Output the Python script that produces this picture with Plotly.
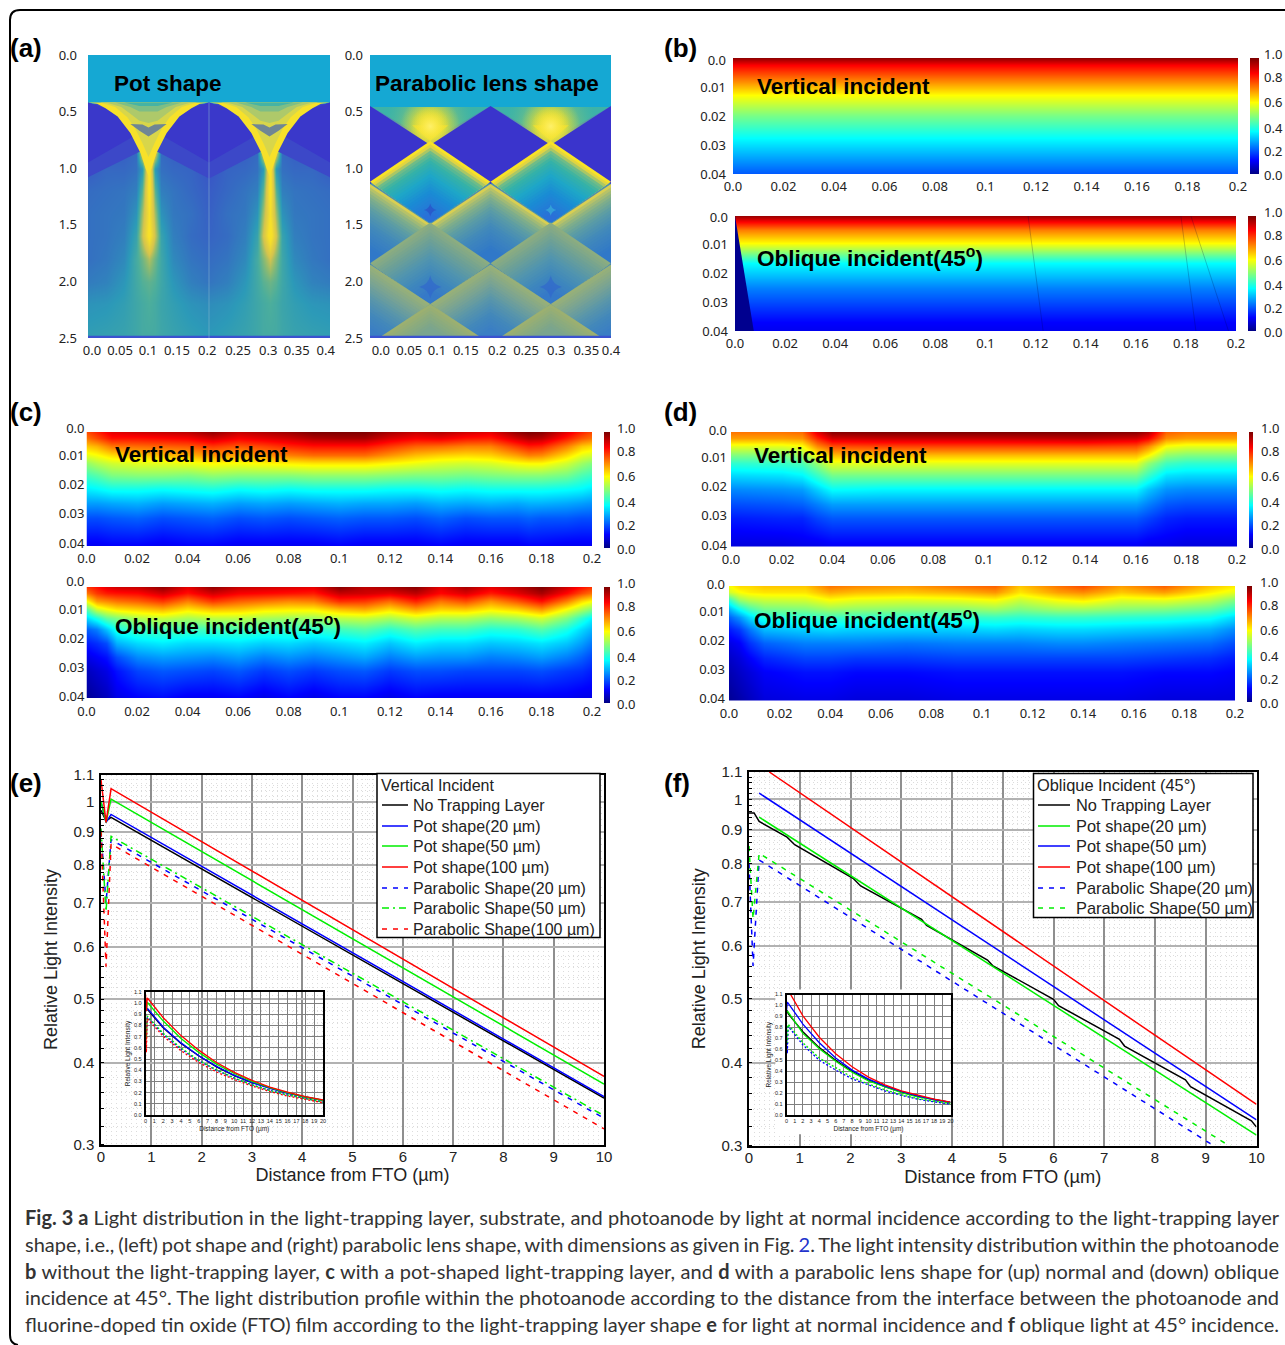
import math
import numpy as np
import plotly.graph_objects as go

W, H = 1285, 1345
TF = "Noto Sans"
AF = "Liberation Sans"

JET = [[0, "#00007f"], [0.125, "#0000ff"], [0.375, "#00ffff"], [0.625, "#ffff00"], [0.875, "#ff0000"], [1, "#7f0000"]]
PAR = [[0, "#3535c8"], [0.1, "#3a50c8"], [0.2, "#3378bf"], [0.3, "#2c9ab8"], [0.4, "#4cae9c"], [0.5, "#8fbb70"],
       [0.6, "#d5c44e"], [0.8, "#f7df2a"], [1, "#fbe81e"]]

# ---------- panel b ----------
B_DEPTH = [0, 0.0025, 0.0127, 0.02, 0.0277, 0.04]
B_TOP = [0.98, 0.875, 0.625, 0.49, 0.375, 0.21]
B_BOT_DEPTH = [0, 0.002, 0.0049, 0.0095, 0.0164, 0.025, 0.037, 0.04]
B_BOT = [0.97, 0.87, 0.75, 0.625, 0.375, 0.25, 0.125, 0.11]
B_WEDGE_X = [0, 0, 0.0075]
B_WEDGE_Y = [0, 0.04, 0.04]
B_STREAKS = [([0.117, 0.123], [0, 0.04]), ([0.178, 0.184], [0, 0.04]), ([0.182, 0.197], [0, 0.04])]

# ---------- panels c, d ----------
DEPTH = [0, 0.002, 0.005, 0.008, 0.011, 0.015, 0.02, 0.025, 0.03, 0.04]
C_TOP_X = [0, .004, .01, .02, .03, .04, .05, .06, .07, .08, .09, .1, .11, .12, .13, .14, .15, .16, .17, .175, .18, .19, .196, .2]
C_TOP = [
    [.80, .84, .90, .92, .93, .94, .98, .93, .95, .97, 1.0, 1.0, 1.0, .96, .93, .95, .92, .90, .98, 1.0, .99, .90, .84, .80],
    [.76, .80, .86, .86, .87, .88, .92, .88, .90, .92, .95, .96, .96, .91, .88, .89, .86, .85, .92, .95, .94, .85, .79, .76],
    [.68, .70, .76, .77, .78, .79, .82, .79, .81, .84, .86, .86, .86, .82, .78, .77, .75, .75, .82, .85, .84, .75, .68, .66],
    [.60, .62, .66, .68, .69, .70, .73, .71, .73, .75, .77, .77, .77, .73, .69, .67, .66, .67, .72, .75, .74, .66, .60, .58],
    [.52, .55, .58, .60, .60, .61, .63, .62, .63, .64, .65, .65, .65, .63, .61, .59, .58, .59, .62, .63, .63, .58, .53, .50],
    [.44, .46, .50, .51, .51, .50, .52, .51, .51, .51, .52, .52, .52, .51, .50, .50, .49, .50, .51, .51, .51, .49, .45, .43],
    [.36, .37, .39, .39, .38, .39, .40, .38, .39, .38, .39, .39, .39, .38, .38, .39, .38, .39, .39, .39, .39, .38, .37, .35],
    [.28, .28, .29, .30, .28, .29, .30, .28, .29, .28, .29, .30, .29, .29, .28, .30, .29, .30, .29, .30, .30, .29, .28, .27],
    [.20, .20, .21, .22, .20, .21, .22, .20, .21, .20, .21, .22, .21, .21, .20, .22, .20, .21, .21, .22, .21, .21, .20, .20],
    [.11, .11, .12, .12, .11, .12, .12, .11, .11, .11, .11, .12, .11, .11, .11, .12, .11, .11, .11, .12, .12, .11, .11, .11],
]
C_BOT_X = [0, .004, .008, .012, .02, .03, .04, .05, .06, .07, .08, .09, .1, .11, .12, .13, .14, .15, .16, .17, .18, .19, .196, .2]
C_BOT = [
    [.82, .86, .90, .92, .93, .98, .90, .98, .93, .92, .91, .90, .99, .94, .96, .99, .90, .96, .90, .94, 1.0, .92, .86, .82],
    [.76, .82, .85, .86, .87, .92, .86, .92, .88, .87, .86, .85, .93, .92, .90, .94, .87, .91, .85, .90, .96, .87, .80, .76],
    [.62, .72, .74, .76, .78, .82, .75, .82, .78, .76, .74, .75, .83, .82, .77, .84, .76, .80, .73, .79, .86, .75, .66, .62],
    [.46, .58, .62, .65, .67, .70, .65, .69, .68, .65, .64, .64, .69, .71, .66, .72, .67, .68, .64, .67, .73, .62, .55, .50],
    [.34, .40, .47, .50, .55, .57, .54, .56, .56, .54, .53, .53, .56, .57, .54, .58, .55, .55, .52, .54, .58, .50, .42, .36],
    [.22, .25, .32, .40, .44, .45, .44, .44, .45, .43, .43, .42, .44, .46, .42, .46, .44, .44, .41, .42, .46, .40, .34, .30],
    [.15, .17, .20, .30, .34, .36, .34, .34, .35, .33, .34, .32, .34, .36, .32, .36, .34, .34, .32, .33, .35, .32, .28, .24],
    [.10, .12, .14, .20, .26, .28, .27, .26, .28, .25, .27, .25, .27, .29, .25, .28, .27, .27, .25, .26, .28, .25, .22, .19],
    [.06, .08, .10, .14, .19, .21, .20, .19, .21, .18, .20, .18, .20, .21, .18, .20, .20, .19, .19, .19, .20, .18, .17, .15],
    [.02, .04, .06, .10, .12, .13, .11, .11, .12, .10, .12, .10, .12, .12, .10, .12, .11, .11, .11, .11, .11, .11, .10, .10],
]
D_TOP_X = [0, .02, .028, .034, .04, .06, .1, .14, .16, .165, .172, .18, .2]
D_TOP = [
    [.76, .76, .77, .90, .99, 1.0, 1.0, 1.0, .99, .95, .78, .76, .76],
    [.72, .72, .73, .84, .92, .93, .93, .94, .92, .88, .74, .72, .72],
    [.60, .60, .62, .74, .80, .81, .81, .81, .80, .74, .62, .60, .60],
    [.50, .50, .53, .62, .69, .69, .69, .69, .69, .63, .52, .50, .50],
    [.42, .43, .45, .52, .60, .60, .60, .60, .60, .52, .44, .42, .42],
    [.34, .35, .37, .43, .49, .49, .49, .49, .49, .43, .35, .34, .34],
    [.26, .27, .28, .33, .38, .37, .37, .37, .37, .32, .27, .26, .26],
    [.20, .21, .22, .25, .28, .28, .28, .28, .28, .25, .21, .20, .20],
    [.15, .16, .16, .19, .21, .21, .21, .21, .21, .19, .16, .15, .15],
    [.09, .09, .10, .10, .11, .11, .11, .11, .11, .10, .10, .09, .09],
]
D_BOT_X = [0, .004, .008, .014, .03, .04, .05, .07, .09, .105, .115, .13, .14, .155, .172, .19, .2]
D_BOT = [
    [.62, .66, .66, .68, .68, .76, .74, .72, .76, .78, .68, .76, .80, .72, .78, .68, .64],
    [.58, .62, .64, .65, .65, .71, .69, .68, .70, .73, .65, .72, .74, .68, .72, .64, .60],
    [.42, .52, .55, .57, .58, .62, .60, .59, .60, .62, .57, .62, .64, .59, .60, .56, .50],
    [.30, .38, .44, .49, .50, .53, .52, .51, .51, .53, .50, .53, .53, .51, .50, .47, .42],
    [.22, .27, .34, .41, .42, .44, .43, .42, .42, .43, .42, .43, .43, .42, .41, .39, .34],
    [.15, .18, .24, .31, .33, .34, .33, .33, .33, .34, .33, .34, .34, .33, .32, .30, .26],
    [.10, .12, .17, .22, .25, .25, .25, .24, .25, .25, .25, .26, .26, .25, .24, .23, .20],
    [.07, .09, .12, .16, .19, .19, .18, .18, .19, .19, .19, .19, .19, .19, .18, .17, .15],
    [.05, .07, .09, .12, .14, .14, .13, .13, .14, .14, .14, .14, .14, .14, .13, .13, .12],
    [.02, .04, .06, .09, .10, .10, .09, .09, .10, .10, .10, .10, .10, .10, .09, .09, .09],
]

# ---------- panel a, pot shape ----------
POT_X = [0, .03, .06, .08, .09, .1, .11, .12, .14, .17, .2, .23, .26, .28, .29, .3, .31, .32, .34, .37, .4]
POT_Y = [.4, .8, 1.0, 1.2, 1.4, 1.6, 1.8, 2.0, 2.2, 2.5]
POT_Z = [
    [.08, .08, .08, .08, .08, .08, .08, .08, .08, .08, .08, .08, .08, .08, .08, .08, .08, .08, .08, .08, .08],
    [.12, .13, .13, .16, .80, .90, .80, .16, .13, .13, .11, .13, .13, .16, .80, .90, .80, .16, .13, .13, .12],
    [.13, .16, .16, .18, .30, .85, .30, .18, .16, .15, .11, .15, .16, .18, .30, .85, .30, .18, .16, .16, .13],
    [.17, .18, .19, .22, .42, .85, .42, .22, .19, .16, .13, .16, .19, .22, .42, .85, .42, .22, .19, .18, .17],
    [.18, .19, .20, .28, .52, .80, .52, .28, .20, .18, .14, .18, .20, .28, .52, .80, .52, .28, .20, .19, .18],
    [.18, .19, .22, .34, .58, .85, .58, .34, .22, .17, .15, .17, .22, .34, .60, .88, .60, .34, .22, .19, .18],
    [.18, .20, .25, .38, .45, .55, .45, .36, .25, .19, .17, .19, .25, .38, .48, .60, .48, .36, .25, .20, .18],
    [.21, .23, .29, .37, .41, .43, .41, .36, .29, .22, .19, .22, .29, .37, .42, .45, .42, .36, .29, .23, .21],
    [.28, .29, .32, .36, .38, .40, .38, .35, .32, .28, .26, .28, .32, .36, .38, .40, .38, .35, .32, .29, .28],
    [.32, .33, .34, .36, .38, .38, .38, .36, .34, .32, .30, .32, .34, .36, .38, .38, .38, .36, .34, .33, .32],
]
CUP_OUTER_X = [0, .015, .029, .049, .07, .087, .095, .1, .105, .113, .13, .151, .171, .185, .2]
CUP_OUTER_Y = [.42, .43, .47, .544, .69, .868, 1.0, 1.07, 1.0, .868, .69, .544, .47, .43, .42]
CUP_1_X = [.02, .045, .065, .078, .09, .1, .11, .122, .135, .155, .18]
CUP_1_Y = [.42, .46, .55, .65, .78, .9, .78, .65, .55, .46, .42]
CUP_2_X = [.03, .055, .07, .085, .1, .115, .13, .145, .17]
CUP_2_Y = [.42, .46, .52, .58, .6, .58, .52, .46, .42]
CUP_3_X = [.045, .07, .085, .115, .13, .155]
CUP_3_Y = [.42, .46, .5, .5, .46, .42]
CUP_4_X = [.06, .085, .115, .14]
CUP_4_Y = [.42, .45, .45, .42]
BUTTERFLY_X = [.07, .09, .1, .11, .13, .115, .1, .085]
BUTTERFLY_Y = [.61, .615, .64, .615, .61, .67, .72, .67]
MID_C_X = [.113, .2, .287, .27, .249, .229, .2, .171, .151, .13]
MID_C_Y = [.85, 1.09, .85, .69, .544, .47, .42, .47, .544, .69]
TOP_C_X = [.125, .2, .275, .27, .249, .229, .2, .171, .151, .13]
TOP_C_Y = [.72, .95, .72, .69, .544, .47, .42, .47, .544, .69]
MID_L_X = [0, .087, .07, .049, .029, 0]
MID_L_Y = [1.08, .85, .69, .544, .47, .42]
TOP_L_X = [0, .075, .07, .049, .029, 0]
TOP_L_Y = [.95, .72, .69, .544, .47, .42]
MID_R_X = [.4, .313, .33, .351, .371, .4]
TOP_R_X = [.4, .325, .33, .351, .371, .4]

# ---------- panel a, parabolic lens ----------
STOPS_TEAL = [(1.0, "#f9e326"), (.97, "#f0d838"), (.93, "#b9ca5c"), (.88, "#6fbc88"), (.78, "#36b2a6"), (.6, "#1ea6c8"), (.4, "#1a8cd4"), (.12, "#2a70d8")]
STOPS_R3 = [(1.0, "#d9cf52"), (.95, "#aebf6e"), (.85, "#7fae8a"), (.7, "#5a9ca6"), (.5, "#4289ba"), (.2, "#3078c8")]
STOPS_R4 = [(1.0, "#8cad80"), (.8, "#6da096"), (.6, "#5295ae"), (.4, "#3f88bc"), (.15, "#3578c8")]
STOPS_R5 = [(1.0, "#98b078"), (.8, "#7aa492"), (.6, "#5a96aa"), (.4, "#4388ba"), (.2, "#3a7ec4")]
STOPS_R6 = [(1.0, "#9cb070"), (.85, "#88aa80"), (.7, "#78a490")]
TILES = [
    (.1, .76, 1.48, .1, STOPS_TEAL), (.3, .76, 1.48, .1, STOPS_TEAL),
    (0, 1.14, 1.85, .1, STOPS_R3), (.2, 1.14, 1.85, .1, STOPS_R3), (.4, 1.14, 1.85, .1, STOPS_R3),
    (.1, 1.48, 2.2, .1, STOPS_R4), (.3, 1.48, 2.2, .1, STOPS_R4),
    (0, 1.85, 2.55, .1, STOPS_R5), (.2, 1.85, 2.55, .1, STOPS_R5), (.4, 1.85, 2.55, .1, STOPS_R5),
    (.1, 2.2, 2.9, .1, STOPS_R6), (.3, 2.2, 2.9, .1, STOPS_R6),
]
DARK_DIAMONDS = [(.2, .45, 1.14, .1), (0, .45, 1.14, .1), (.4, .45, 1.14, .1)]
CUPS_P = [([0, .2, .1], [.45, .45, .76]), ([.2, .4, .3], [.45, .45, .76])]
GLOW_X = [.1, .3]
GLOW_Y = [.63, .63]
STAR_X = [.1, .3, .1, .3]
STAR_Y = [1.37, 1.37, 2.05, 2.05]
STAR_C = ["#2a50c8", "#38b0d8", "#3068cc", "#3068cc"]

# ---------- panel e ----------
E_X = [0, .1, .2, 10]
E_NONE = [.97, .935, .9465, .353]
E_P20 = [1.0, .93, .956, .355]
E_P50 = [1.0, .93, 1.0086, .371]
E_P100 = [1.08, .93, 1.0466, .381]
E_L20 = [.90, .70, .875, .329]
E_L50 = [.91, .68, .885, .332]
E_L100 = [.90, .56, .862, .317]
INS_X = [0, .1, .2, 2, 4, 6, 8, 10, 12, 14, 16, 18, 20]
EI_NONE = [.97, .935, .945, .78, .64, .53, .43, .353, .29, .24, .195, .16, .13]
EI_P20 = [1.0, .93, .956, .785, .645, .53, .435, .355, .29, .238, .195, .16, .13]
EI_P50 = [1.0, .93, 1.008, .84, .685, .56, .455, .371, .30, .245, .20, .162, .132]
EI_P100 = [1.08, .93, 1.047, .87, .71, .58, .47, .381, .31, .25, .205, .165, .135]
EI_L20 = [.9, .7, .875, .72, .59, .485, .4, .329, .27, .22, .18, .145, .115]
EI_L50 = [.91, .68, .885, .73, .6, .49, .405, .332, .27, .22, .18, .145, .115]
EI_L100 = [.9, .56, .862, .705, .575, .47, .385, .317, .26, .21, .17, .14, .11]

# ---------- panel f ----------
F_NONE_X = [0, .1, .2, .75, .9, 2.05, 2.2, 3.4, 3.5, 4.7, 4.8, 6, 6.1, 7.3, 7.4, 8.6, 8.7, 9.9, 10]
F_NONE = [.954, .954, .926, .877, .854, .76, .74, .659, .645, .572, .561, .499, .488, .434, .424, .377, .368, .327, .32]
F_P20_X = [.2, 10]
F_P20 = [.94, .311]
F_P50_X = [.2, 10]
F_P50 = [1.022, .328]
F_P100_X = [.4, 10]
F_P100 = [1.1, .346]
F_L_X = [0, .08, .2, 10]
F_L20 = [.8, .56, .81, .273]
F_L50 = [.85, .66, .829, .2825]
FI_X = [0, .1, .2, 2, 4, 6, 8, 10, 12, 14, 16, 18, 20]
FI_NONE = [.95, .95, .925, .76, .615, .5, .4, .32, .26, .21, .17, .14, .115]
FI_P20 = [.95, .94, .94, .745, .605, .49, .39, .311, .255, .205, .165, .135, .11]
FI_P50 = [.95, 1.03, 1.022, .83, .66, .52, .41, .328, .265, .215, .175, .14, .115]
FI_P100 = [1.25, 1.2, 1.14, .905, .71, .56, .44, .346, .275, .22, .18, .145, .118]
FI_L20 = [.8, .56, .81, .64, .5, .41, .33, .273, .22, .18, .145, .12, .1]
FI_L50 = [.85, .66, .829, .66, .52, .43, .345, .2825, .23, .185, .15, .125, .105]

TICK_X_02 = [0, .02, .04, .06, .08, .1, .12, .14, .16, .18, .2]
TICK_X_02_T = ["0.0", "0.02", "0.04", "0.06", "0.08", "0.1", "0.12", "0.14", "0.16", "0.18", "0.2"]
TICK_Y_04_T = ["0.0", "0.01", "0.02", "0.03", "0.04"]
LABEL_Y_B1 = [60, 87, 116, 145, 174]
LABEL_Y_B2 = [217, 244, 273, 302, 331]
LABEL_Y_C1 = [428, 455, 484, 513, 543]
LABEL_Y_C2 = [581, 609, 638, 667, 696]
LABEL_Y_D1 = [430, 457, 486, 515, 545]
LABEL_Y_D2 = [584, 611, 640, 669, 698]
TICK_A1_X = [.0066, .053, .099, .147, .197, .248, .298, .345, .393]
TICK_A2_X = [.018, .065, .111, .159, .211, .259, .309, .359, .4]
TICK_A_XT = ["0.0", "0.05", "0.1", "0.15", "0.2", "0.25", "0.3", "0.35", "0.4"]
TICK_A_Y = [0, .5, 1, 1.5, 2, 2.5]
TICK_A_YT = ["0.0", "0.5", "1.0", "1.5", "2.0", "2.5"]
CB_LEVELS = [0, .125, .375, .625, .875, 1]
CB_TICKS = [-.012, .195, .392, .615, .83, 1.03]
CB_TEXT = ["0.0", "0.2", "0.4", "0.6", "0.8", "1.0"]
LOG_TICKS = [.3, .4, .5, .6, .7, .8, .9, 1, 1.1]
LOG_TEXT = ["0.3", "0.4", "0.5", "0.6", "0.7", "0.8", "0.9", "1", "1.1"]

CAPTION = [
    "<b>Fig. 3 a</b> Light distribution in the light-trapping layer, substrate, and photoanode by light at normal incidence according to the light-trapping layer",
    "shape, i.e., (left) pot shape and (right) parabolic lens shape, with dimensions as given in Fig. <span style=\"color:#2233cc\">2</span>. The light intensity distribution within the photoanode",
    "<b>b</b> without the light-trapping layer, <b>c</b> with a pot-shaped light-trapping layer, and <b>d</b> with a parabolic lens shape for (up) normal and (down) oblique",
    "incidence at 45°. The light distribution profile within the photoanode according to the distance from the interface between the photoanode and",
    "fluorine-doped tin oxide (FTO) film according to the light-trapping layer shape <b>e</b> for light at normal incidence and <b>f</b> oblique light at 45° incidence.",
]
CAPTION_Y = [1217, 1244, 1271, 1297, 1324]

fig = go.Figure()
layout = {}
annos = []
shapes = []
_n = [0]


def axes(box, xa=None, ya=None):
    _n[0] += 1
    i = _n[0]
    s = "" if i == 1 else str(i)
    x0, x1, y0, y1 = box
    xd = dict(domain=[x0 / W, x1 / W], anchor="y" + s, showgrid=False, zeroline=False, fixedrange=True)
    yd = dict(domain=[1 - y1 / H, 1 - y0 / H], anchor="x" + s, showgrid=False, zeroline=False, fixedrange=True)
    xd.update(xa or {})
    yd.update(ya or {})
    layout["xaxis" + s] = xd
    layout["yaxis" + s] = yd
    return "x" + s, "y" + s


def text(x, y, s, size=22.5, family=AF, color="black", bold=True):
    annos.append(dict(x=x / W, y=1 - y / H, xref="paper", yref="paper", text=("<b>%s</b>" % s) if bold else s,
                      showarrow=False, xanchor="left", yanchor="middle", align="left", borderpad=0, borderwidth=0,
                      font=dict(size=size, family=family, color=color)))


def poly(xs, ys, color, ax):
    fig.add_trace(go.Scatter(x=xs, y=ys, mode="lines", fill="toself", fillcolor=color, line=dict(width=0),
                             showlegend=False, hoverinfo="skip", xaxis=ax[0], yaxis=ax[1]))


TK = dict(ticks="", tickfont=dict(family=TF, size=13, color="#222"), showline=False)


def ghost(ax):
    fig.add_trace(go.Scatter(x=[.5], y=[.5], mode="markers", marker=dict(opacity=0), showlegend=False, hoverinfo="skip",
                             xaxis=ax[0], yaxis=ax[1]))


def heat_axes(box, ystand, label_y):
    x0, x1, y0, y1 = box
    ax = axes(box,
              dict(range=[0, .2], tickmode="array", tickvals=TICK_X_02, ticktext=TICK_X_02_T, ticklabelstandoff=3, **TK),
              dict(range=[.04, 0], visible=False))
    u = .04 / (y1 - y0)
    lab = axes((x0, x1, y0 - 10, y1 + 4), dict(range=[0, 1], visible=False),
               dict(range=[.04 + 4 * u, -10 * u], tickmode="array", tickvals=[(p - y0) * u for p in label_y],
                    ticktext=TICK_Y_04_T, ticklabelstandoff=ystand, **TK))
    ghost(lab)
    return ax


def heat(x, y, z, ax):
    fig.add_trace(go.Heatmap(x=x, y=y, z=z, colorscale=JET, zmin=0, zmax=1, zsmooth="best", showscale=False,
                             hoverinfo="skip", xaxis=ax[0], yaxis=ax[1]))


def cbar(box, gap):
    x0, x1, y0, y1 = box
    ax = axes(box, dict(range=[0, 1], visible=False), dict(range=[0, 1], visible=False))
    fig.add_trace(go.Heatmap(x=[0, 1], y=CB_LEVELS, z=[[v, v] for v in CB_LEVELS], colorscale=JET, zmin=0, zmax=1,
                             zsmooth="best", showscale=False, hoverinfo="skip", xaxis=ax[0], yaxis=ax[1]))
    ext = 6 / (y1 - y0)
    lab = axes((x0, x1, y0 - 6, y1 + 6), dict(range=[0, 1], visible=False),
               dict(range=[-ext, 1 + ext], side="right", tickmode="array", tickvals=CB_TICKS, ticktext=CB_TEXT,
                    ticklabelstandoff=gap, **TK))
    ghost(lab)


def hex2(c):
    return [int(c[i:i + 2], 16) for i in (1, 3, 5)]


def stop_color(stops, s):
    for (s1, c1), (s2, c2) in zip(stops, stops[1:]):
        if s <= s1 and s >= s2:
            t = (s1 - s) / (s1 - s2)
            a, b = hex2(c1), hex2(c2)
            return "rgb(%d,%d,%d)" % tuple(round(a[k] + (b[k] - a[k]) * t) for k in range(3))
    return stops[-1][1]


# ---- a left
a1 = axes((88, 330, 55, 338),
          dict(range=[0, .4], tickmode="array", tickvals=TICK_A1_X, ticktext=TICK_A_XT, ticklabelstandoff=3, **TK),
          dict(range=[2.5, 0], tickmode="array", tickvals=TICK_A_Y, ticktext=TICK_A_YT, ticklabelstandoff=10, **TK))
fig.add_trace(go.Heatmap(x=POT_X, y=POT_Y, z=POT_Z, colorscale=PAR, zmin=0, zmax=1, zsmooth="best", showscale=False,
                         hoverinfo="skip", xaxis=a1[0], yaxis=a1[1]))
poly([0, .4, .4, 0], [0, 0, .43, .43], "#15a8d3", a1)
poly([0, .4, .4, 0], [2.48, 2.48, 2.5, 2.5], "#3a52d0", a1)
poly(MID_L_X, MID_L_Y, "#3c48c8", a1)
poly(MID_R_X, MID_L_Y, "#3c48c8", a1)
poly(MID_C_X, MID_C_Y, "#3c48c8", a1)
poly(TOP_L_X, TOP_L_Y, "#3a38ca", a1)
poly(TOP_R_X, TOP_L_Y, "#3a38ca", a1)
poly(TOP_C_X, TOP_C_Y, "#3a38ca", a1)
for dx in (0, .2):
    poly([v + dx for v in CUP_OUTER_X], CUP_OUTER_Y, "#f7e12a", a1)
    poly([v + dx for v in CUP_1_X], CUP_1_Y, "#d8d64a", a1)
    poly([v + dx for v in CUP_2_X], CUP_2_Y, "#aec96a", a1)
    poly([v + dx for v in CUP_3_X], CUP_3_Y, "#7dbe86", a1)
    poly([v + dx for v in CUP_4_X], CUP_4_Y, "#46b3a4", a1)
    poly([v + dx for v in BUTTERFLY_X], BUTTERFLY_Y, "#6f8694", a1)
fig.add_trace(go.Scatter(x=[.2, .2], y=[.42, 2.5], mode="lines", line=dict(color="rgba(140,190,210,.5)", width=1),
                         showlegend=False, hoverinfo="skip", xaxis=a1[0], yaxis=a1[1]))
text(114, 84, "Pot shape")

# ---- a right
a2 = axes((370, 611, 55, 338),
          dict(range=[0, .4], tickmode="array", tickvals=TICK_A2_X, ticktext=TICK_A_XT, ticklabelstandoff=3, **TK),
          dict(range=[2.5, 0], tickmode="array", tickvals=TICK_A_Y, ticktext=TICK_A_YT, ticklabelstandoff=6, **TK))
poly([0, .4, .4, 0], [.4, .4, 2.5, 2.5], "#4f8fb0", a2)
for cx, cy in CUPS_P:
    poly(cx, cy, "#3cb3a8", a2)
    poly([cx[2] - .03, cx[2] + .03, cx[2]], [.62, .62, .76], "#f9e326", a2)
for size, outer, center in [(92, "rgba(90,185,150,0)", "#f9e326"), (60, "rgba(249,227,38,0)", "#f9e326"),
                            (40, "rgba(249,227,38,0)", "#fdf06a")]:
    fig.add_trace(go.Scatter(x=GLOW_X, y=GLOW_Y, mode="markers", showlegend=False, hoverinfo="skip", xaxis=a2[0], yaxis=a2[1],
                             marker=dict(size=size, color=outer, line=dict(width=0),
                                         gradient=dict(type="radial", color=center))))
poly([0, .4, .4, 0], [0, 0, .46, .46], "#15a8d3", a2)
for cx, t, b, w in DARK_DIAMONDS:
    poly([cx, cx + w, cx, cx - w], [t, (t + b) / 2, b, (t + b) / 2], "#3a34cc", a2)
for cx, t, b, w, stops in TILES:
    h = b - t
    s = 1.0
    low = stops[-1][0]
    while s >= low - 1e-9:
        m = b - h * s / 2
        poly([cx, cx + w * s, cx, cx - w * s], [b - h * s, m, b, m], stop_color(stops, s), a2)
        s -= .04
fig.add_trace(go.Scatter(x=STAR_X, y=STAR_Y, mode="markers", showlegend=False, hoverinfo="skip", xaxis=a2[0], yaxis=a2[1],
                         marker=dict(size=[9, 8, 16, 16], symbol="star-diamond", color=STAR_C, line=dict(width=0))))
poly([0, .4, .4, 0], [2.48, 2.48, 2.5, 2.5], "#3a52d0", a2)
text(375, 84, "Parabolic lens shape")

# ---- b
ax = heat_axes((733, 1238, 58, 174), 6, LABEL_Y_B1)
heat([0, .2], B_DEPTH, [[v, v] for v in B_TOP], ax)
cbar((1250, 1259, 58, 174), 4)
text(757, 86, "Vertical incident")
ax = heat_axes((735, 1236, 216, 331), 6, LABEL_Y_B2)
heat([0, .2], B_BOT_DEPTH, [[v, v] for v in B_BOT], ax)
poly(B_WEDGE_X, B_WEDGE_Y, "#00008f", ax)
for sx, sy in B_STREAKS:
    fig.add_trace(go.Scatter(x=sx, y=sy, mode="lines", line=dict(color="rgba(0,0,60,.22)", width=1), showlegend=False,
                             hoverinfo="skip", xaxis=ax[0], yaxis=ax[1]))
cbar((1248, 1256, 216, 331), 7)
text(757, 257, "Oblique incident(45<sup>o</sup>)")

# ---- c
ax = heat_axes((86.5, 592, 432, 546), 1, LABEL_Y_C1)
heat(C_TOP_X, DEPTH, C_TOP, ax)
cbar((604, 610, 432, 548), 6)
text(115, 454, "Vertical incident")
ax = heat_axes((86.5, 592, 587, 698.5), 1, LABEL_Y_C2)
heat(C_BOT_X, DEPTH, C_BOT, ax)
cbar((604, 610, 587, 703), 6)
text(115, 625, "Oblique incident(45<sup>o</sup>)")

# ---- d
ax = heat_axes((731, 1237, 432, 546.5), 3, LABEL_Y_D1)
heat(D_TOP_X, DEPTH, D_TOP, ax)
cbar((1249, 1253, 432, 548), 7)
text(754, 455, "Vertical incident")
ax = heat_axes((729, 1235, 586, 700.5), 3, LABEL_Y_D2)
heat(D_BOT_X, DEPTH, D_BOT, ax)
cbar((1247, 1252, 586, 702), 7)
text(754, 619, "Oblique incident(45<sup>o</sup>)")

# ---- e, f
LOG_MINOR = [round(v, 2) for v in np.arange(.3, 1.1, .02)]
X_MINOR = [round(v, 1) for v in np.arange(0, 10.01, .1)]
XT = list(range(11))


def main_axes(box, ytitle_stand, xsize):
    fr = dict(family=AF, size=15, color="#222")
    return axes(box,
                dict(range=[0, 10], tickmode="array", tickvals=XT, ticktext=[str(v) for v in XT], tickfont=fr,
                     showgrid=True, gridcolor="#8f8f8f", gridwidth=1.5, showline=True, linecolor="black", linewidth=1.5,
                     mirror=True, ticks="", ticklabelstandoff=-2,
                     title=dict(text="Distance from FTO (µm)", font=dict(family=AF, size=xsize, color="#222"), standoff=4),
                     minor=dict(tickmode="array", tickvals=X_MINOR, showgrid=True, griddash="1px,3px", gridcolor="#dcdcdc", gridwidth=1, ticks="")),
                dict(type="log", range=[math.log10(.3), math.log10(1.1)], tickmode="array", tickvals=LOG_TICKS, ticktext=LOG_TEXT,
                     tickfont=fr, showgrid=True, gridcolor="#b2b2b2", gridwidth=1.5, showline=True, linecolor="black", linewidth=1.5,
                     mirror=True, ticks="", ticklabelstandoff=2,
                     title=dict(text="Relative Light Intensity", font=dict(family=AF, size=18, color="#222"), standoff=ytitle_stand),
                     minor=dict(tickmode="array", tickvals=LOG_MINOR, showgrid=True, griddash="1px,3px", gridcolor="#dcdcdc", gridwidth=1,
                                ticks="inside", ticklen=3, tickcolor="black")))


def inset_axes(box):
    fr = dict(family=AF, size=5.5, color="#222")
    xt = list(range(21))
    yt = [round(v * .1, 1) for v in range(12)]
    return axes(box,
                dict(range=[0, 20], tickmode="array", tickvals=xt, ticktext=[str(v) for v in xt], tickfont=fr, showgrid=True,
                     gridcolor="#7f7f7f", gridwidth=1, showline=True, linecolor="black", linewidth=1.5, mirror=True, ticks="",
                     title=dict(text="Distance from FTO (µm)", font=dict(family=AF, size=6.5, color="#222"), standoff=3)),
                dict(range=[0, 1.1], tickmode="array", tickvals=yt, ticktext=["%.1f" % v for v in yt], tickfont=fr, showgrid=True,
                     gridcolor="#7f7f7f", gridwidth=1, showline=True, linecolor="black", linewidth=1.5, mirror=True, ticks="",
                     ticklabelstandoff=1,
                     title=dict(text="Relative Light Intensity", font=dict(family=AF, size=6.5, color="#222"), standoff=3)))


BLK, BLU, GRN, RED = "#000000", "#0000ff", "#00ee00", "#ff0000"
D1 = "5px,6px"
DD = "7px,4px,2px,4px"


def line(x, y, name, c, dash, ax, width=1.5):
    fig.add_trace(go.Scatter(x=x, y=y, name=name, mode="lines", line=dict(color=c, width=width, dash=dash),
                             showlegend=False, hoverinfo="skip", xaxis=ax[0], yaxis=ax[1]))


def key(box, title, tx, sample, ttx, size, rows, items):
    x0, x1, y0, y1 = box
    shapes.append(dict(type="rect", xref="paper", yref="paper", x0=x0 / W, x1=x1 / W, y0=1 - y1 / H, y1=1 - y0 / H,
                       fillcolor="white", line=dict(color="black", width=1.5), layer="above"))
    text(tx, 785, title, size=size, color="#222", bold=False)
    for y, (n, c, d) in zip(rows, items):
        shapes.append(dict(type="line", xref="paper", yref="paper", x0=sample[0] / W, x1=sample[1] / W, y0=1 - y / H, y1=1 - y / H,
                           line=dict(color=c, width=1.5, dash=d), layer="above"))
        text(ttx, y, n, size=size, color="#222", bold=False)


E_ITEMS = [("No Trapping Layer", BLK, "solid"), ("Pot shape(20 µm)", BLU, "solid"), ("Pot shape(50 µm)", GRN, "solid"),
           ("Pot shape(100 µm)", RED, "solid"), ("Parabolic Shape(20 µm)", BLU, D1), ("Parabolic Shape(50 µm)", GRN, DD),
           ("Parabolic Shape(100 µm)", RED, D1)]
F_ITEMS = [("No Trapping Layer", BLK, "solid"), ("Pot shape(20 µm)", GRN, "solid"), ("Pot shape(50 µm)", BLU, "solid"),
           ("Pot shape(100 µm)", RED, "solid"), ("Parabolic Shape(20 µm)", BLU, D1), ("Parabolic Shape(50 µm)", GRN, D1)]
KEY_ROWS = [805, 826, 846, 867, 888, 908, 929]

e = main_axes((101, 604, 774.5, 1144.5), 11, 18)
for y, (n, c, d) in zip([E_NONE, E_P20, E_P50, E_P100, E_L20, E_L50, E_L100], E_ITEMS):
    line(E_X, y, n, c, d, e)
ei = inset_axes((145.5, 323, 992, 1115))
for y, c, d in [(EI_NONE, BLK, "solid"), (EI_P20, BLU, "solid"), (EI_P50, GRN, "solid"), (EI_P100, RED, "solid"),
                (EI_L20, BLU, "2px,2px"), (EI_L50, GRN, "2px,2px"), (EI_L100, RED, "2px,2px")]:
    line(INS_X, y, None, c, d, ei, 1.3)
key((377, 600, 773.5, 937.5), "Vertical Incident", 381, (382, 408), 413, 16, KEY_ROWS, E_ITEMS)

f = main_axes((749, 1256.5, 772, 1145.5), 11, 18.3)
poly([.52, 3.97, 3.97, .52], [.516, .516, .312, .312], "#ffffff", f)
for (x, y), (n, c, d) in zip([(F_NONE_X, F_NONE), (F_P20_X, F_P20), (F_P50_X, F_P50), (F_P100_X, F_P100), (F_L_X, F_L20), (F_L_X, F_L50)], F_ITEMS):
    line(x, y, n, c, d, f)
fi = inset_axes((786.5, 950.5, 994.5, 1115))
for y, c, d in [(FI_NONE, BLK, "solid"), (FI_P20, GRN, "solid"), (FI_P50, BLU, "solid"), (FI_P100, RED, "solid"),
                (FI_L20, BLU, "2px,2px"), (FI_L50, GRN, "2px,2px")]:
    line(FI_X, y, None, c, d, fi, 1.3)
key((1033.5, 1253, 773.5, 917.5), "Oblique Incident (45°)", 1037, (1038, 1070), 1076, 16.4, KEY_ROWS, F_ITEMS)

# ---- labels and caption
for x, y, s in [(10, 48, "(a)"), (664, 48, "(b)"), (10, 412, "(c)"), (664, 412, "(d)"), (10, 783, "(e)"), (664, 783, "(f)")]:
    text(x, y, s, size=26)
for s, y in zip(CAPTION, CAPTION_Y):
    text(25, y, s, size=20, family="Lato", color="#333333", bold=False)

shapes.append(dict(type="path", xref="paper", yref="paper",
                   path=("M 1 {a} L {b} {a} Q {c} {a} {c} {d} L {c} {e} Q {c} {f} {g} {h}").format(
                       a=1 - 10 / H, b=20 / W, c=10 / W, d=1 - 20 / H, e=1 - 1335 / H, f=1 - 1344 / H, g=18 / W, h=1 - 1345 / H),
                   line=dict(color="black", width=2)))

fig.update_layout(width=W, height=H, margin=dict(l=0, r=0, t=0, b=0, pad=0), template="none", showlegend=False,
                  paper_bgcolor="white", plot_bgcolor="rgba(0,0,0,0)", annotations=annos, shapes=shapes, **layout)

POST = """
document.body.style.margin='0';document.body.style.overflow='hidden';
function just(){document.querySelectorAll('.annotation-text').forEach(function(t){
 if((t.style.fontFamily||'').indexOf('Lato')>=0){t.style.wordSpacing='0px';var L=t.getComputedTextLength();
 var n=(t.textContent.match(/ /g)||[]).length;t.style.wordSpacing=((1254-L)/n)+'px';}});}
just();setTimeout(just,60);setTimeout(just,300);
"""
fig.write_html("out.html", post_script=POST, config=dict(displayModeBar=False))
